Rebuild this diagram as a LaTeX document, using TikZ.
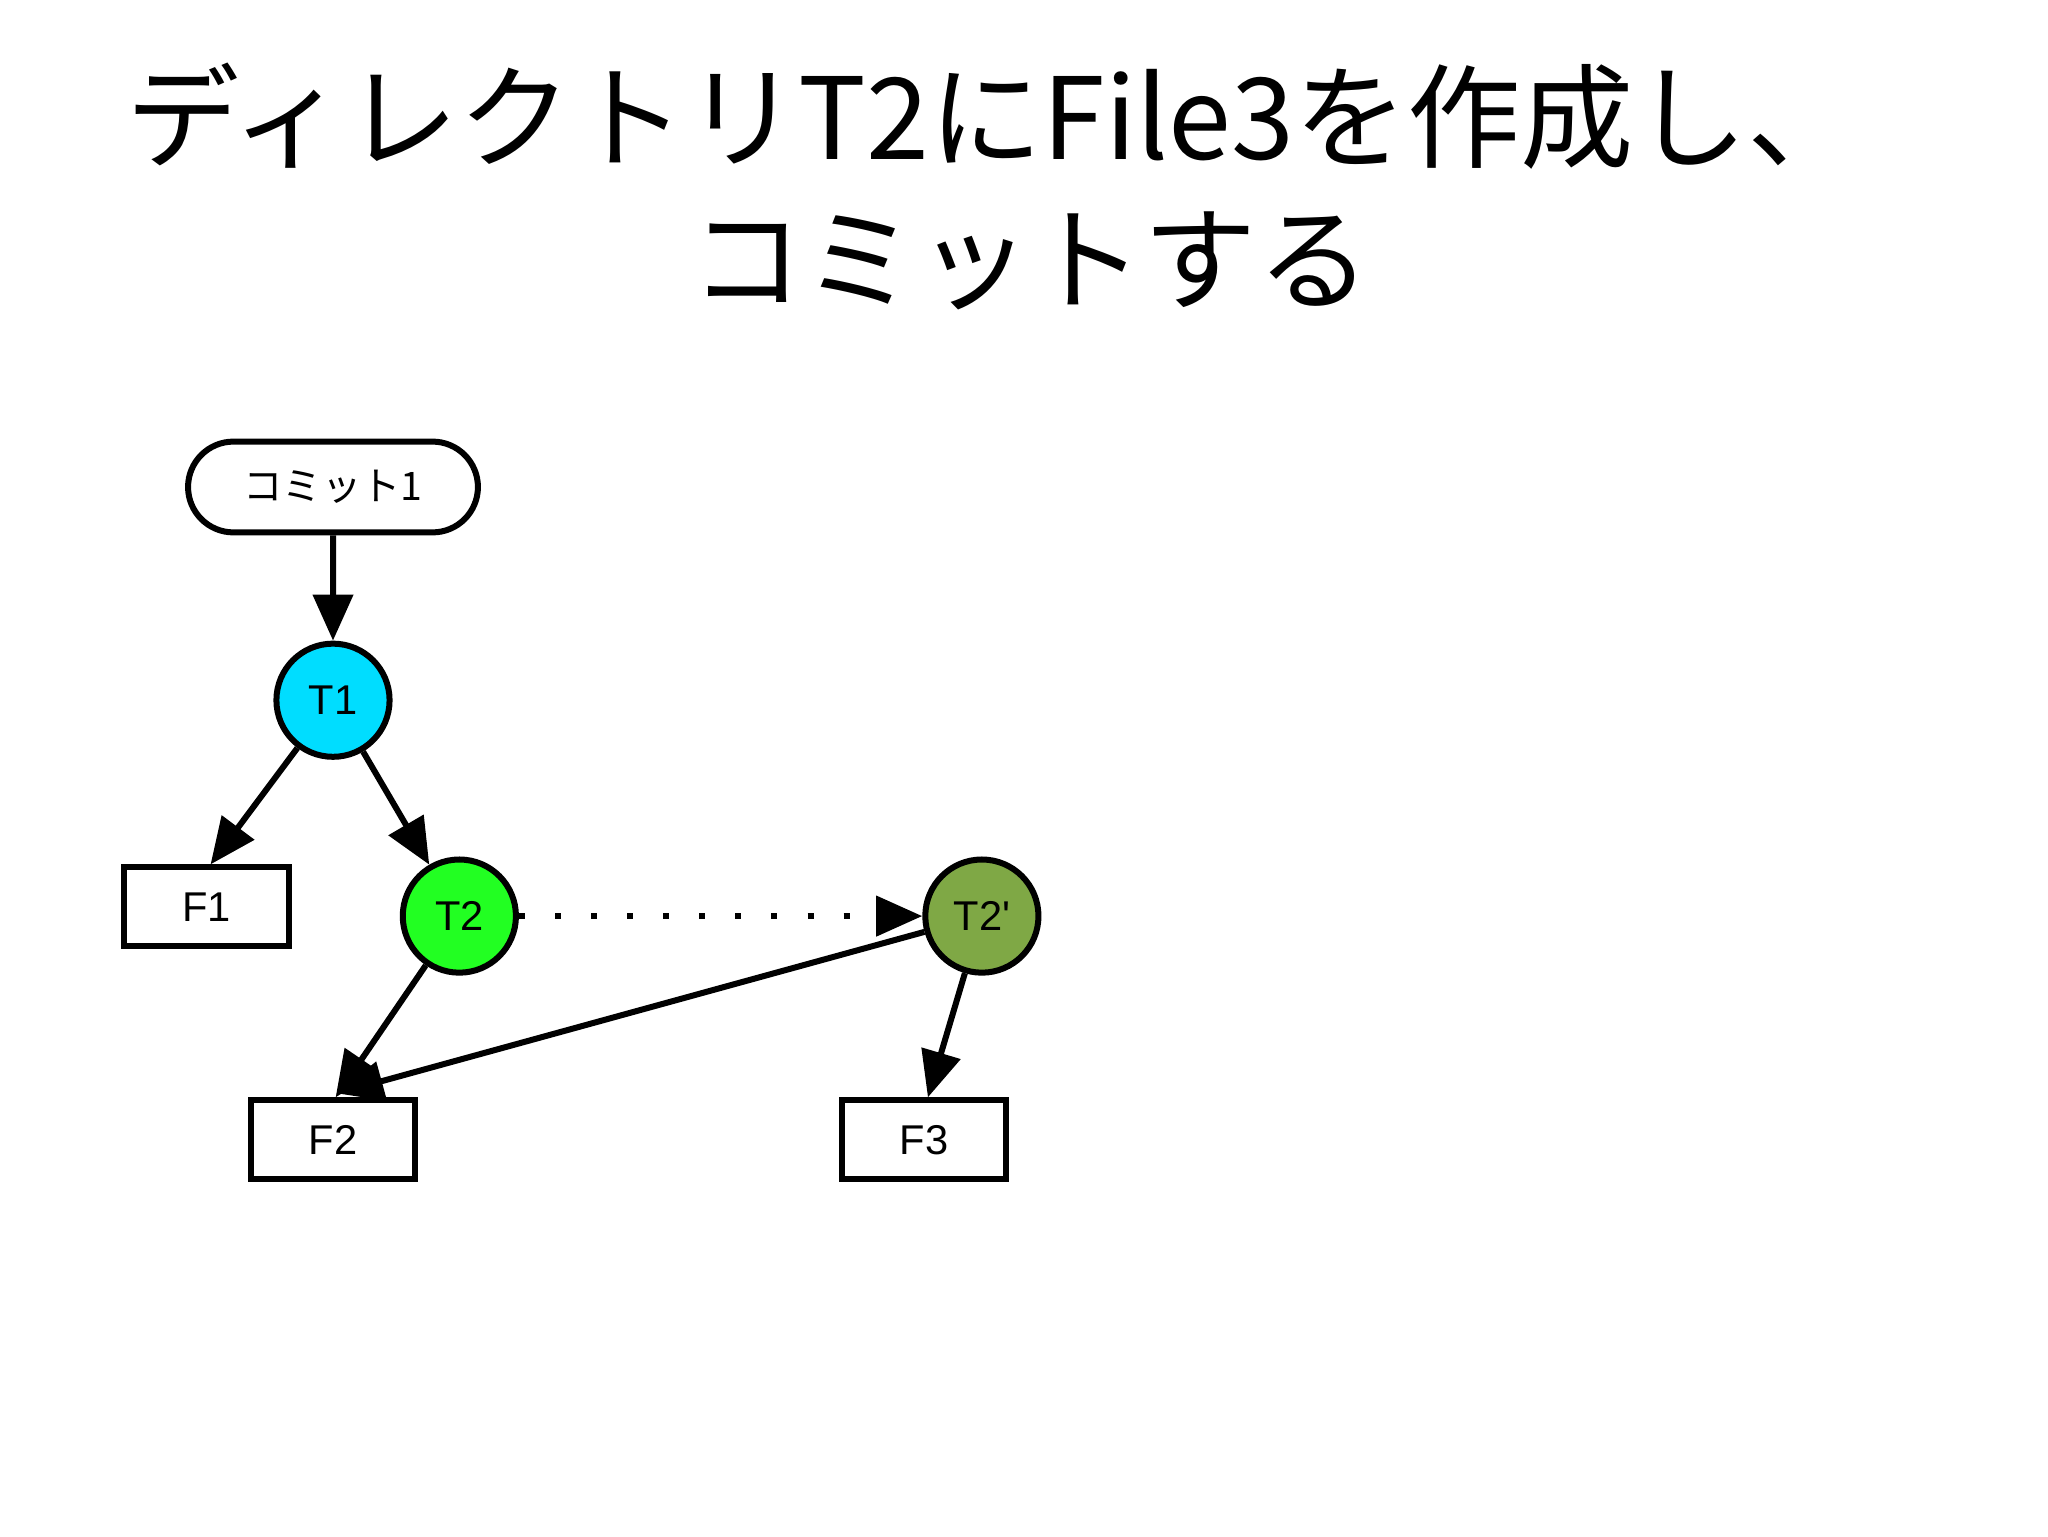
\documentclass[tikz,border=0pt]{standalone}
\usepackage{fontspec}
\setmainfont{Liberation Sans}
\newfontfamily\jpfont{Noto Sans CJK JP}
\usetikzlibrary{arrows.meta,calc,shapes.misc}
\definecolor{tone}{HTML}{00DDFF}
\definecolor{ttwo}{HTML}{22FF22}
\definecolor{ttwop}{HTML}{7FA845}
\begin{document}
\begin{tikzpicture}[x=0.02cm,y=-0.02cm,
  tnode/.style={circle,draw,line width=2.6pt,minimum size=1.72cm,inner sep=0pt,font=\fontsize{18}{20}\selectfont},
  fbox/.style={draw,line width=2.6pt,minimum width=2.5cm,minimum height=1.2cm,font=\fontsize{18}{20}\selectfont},
  conn/.style={line width=2.6pt,-{Triangle[length=0.7cm,width=0.6cm]}}]
\useasboundingbox (0,0) rectangle (1556,1167);
\node[font=\jpfont\fontsize{49}{56}\selectfont] (t1) at (755,88) {ディレクトリT2にFile3を作成し、};
\node[font=\jpfont\fontsize{49}{56}\selectfont] (t2) at (783,198) {コミットする};
\node[draw,line width=2.6pt,rounded rectangle,minimum width=4.64cm,minimum height=1.38cm,font=\jpfont\fontsize{17}{20}\selectfont] (c1) at (253,370) {コミット1};
\node[tnode,fill=tone] (n1) at (253,532) {T1};
\node[tnode,fill=ttwo] (n2) at (349,696) {T2};
\node[tnode,fill=ttwop] (n2p) at (746,696) {T2\textquotesingle};
\node[fbox] (f1) at (157,689) {F1};
\node[fbox] (f2) at (253,866) {F2};
\node[fbox] (f3) at (702,866) {F3};
\coordinate (f2t) at ($(f2.north west)+(68,-3)$);
\coordinate (f2a) at ($(f2.north)+(2,0)$);
\coordinate (f1a) at ($(f1.north)+(3,0)$);
\coordinate (f3a) at ($(f3.north)+(3,0)$);
\draw[conn] (c1) -- (n1);
\draw[conn] (n1) -- (f1a);
\draw[conn] (n1) -- (n2);
\draw[conn] (n2) -- (f2a);
\draw[conn] (n2p) -- (f3a);
\draw[conn] (n2p) -- (f2t);
\draw[line width=2.6pt,dash pattern=on 2.6pt off 13pt,-{Triangle[length=0.7cm,width=0.6cm]}] (n2) -- (n2p);
\end{tikzpicture}
\end{document}
